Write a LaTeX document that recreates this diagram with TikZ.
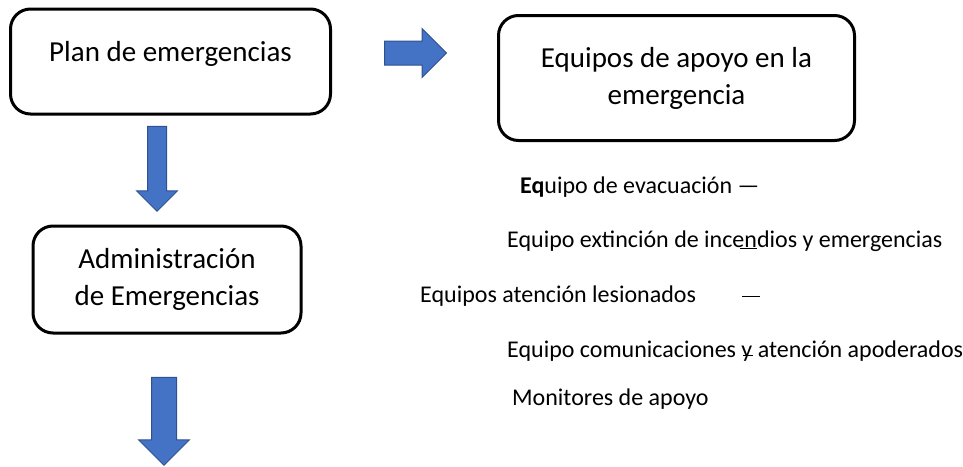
\documentclass[tikz,border=0pt]{standalone}
\usepackage{fontspec}
\setmainfont{Carlito}
\usepackage{tikz}
\usetikzlibrary{shapes,arrows,positioning}
\definecolor{arrowfill}{HTML}{4472C4}
\definecolor{arrowedge}{HTML}{2F528F}

\begin{document}
\begin{tikzpicture}[x=1pt, y=-1pt,
    box/.style={rectangle, draw, line width=3pt, rounded corners=20pt, align=center, font=\fontsize{29}{37}\selectfont},
    blockarrow/.style={single arrow, draw=arrowedge, fill=arrowfill, line width=1pt, inner xsep=0pt, single arrow tip angle=90},
    item/.style={anchor=base west, inner sep=0pt, font=\fontsize{24}{29}\selectfont},
    stray/.style={line width=1pt}
]
    \useasboundingbox (0,0) rectangle (963,466);

    % Plan
    \node[box, minimum width=320pt, minimum height=105pt, text height=21pt, text depth=22pt] (plan) at (170.5,61.5) {Plan de emergencias};

    % Equipos de apoyo
    \node[box, minimum width=356pt, minimum height=125pt] (apoyo) at (676.5,78) {Equipos de apoyo en la\\emergencia};

    % Administracion
    \node[box, minimum width=268pt, minimum height=107pt] (admin) at (167,279.5) {Administración\\de Emergencias};

    % Block arrows
    \node[blockarrow, rotate=-90, minimum height=85pt, inner ysep=9pt, single arrow head extend=11pt] (down1) at (157,164) {};
    \node[blockarrow, rotate=-90, minimum height=88pt, inner ysep=12pt, single arrow head extend=13pt] (down2) at (164,415) {};
    \node[blockarrow, minimum height=62pt, inner ysep=11.5pt, single arrow head extend=12.5pt] (right1) at (409.5,53) {};

    % Teams
    \node[item] (evac) at (520,193) {\textbf{Eq}uipo de evacuación —};
    \node[item] (extin) at (507,247) {Equipo extinción de incendios y emergencias};
    \node[item] (lesion) at (420,302) {Equipos atención lesionados};
    \node[item] (comun) at (507,357) {Equipo comunicaciones y atención apoderados};
    \node[item] (monit) at (512,405) {Monitores de apoyo};

    % Stray marks
    \draw[stray] (740,248) -- (757,248);
    \draw[stray] (742,296) -- (760,296);
    \draw[stray] (743,355) -- (753,355);
\end{tikzpicture}
\end{document}
